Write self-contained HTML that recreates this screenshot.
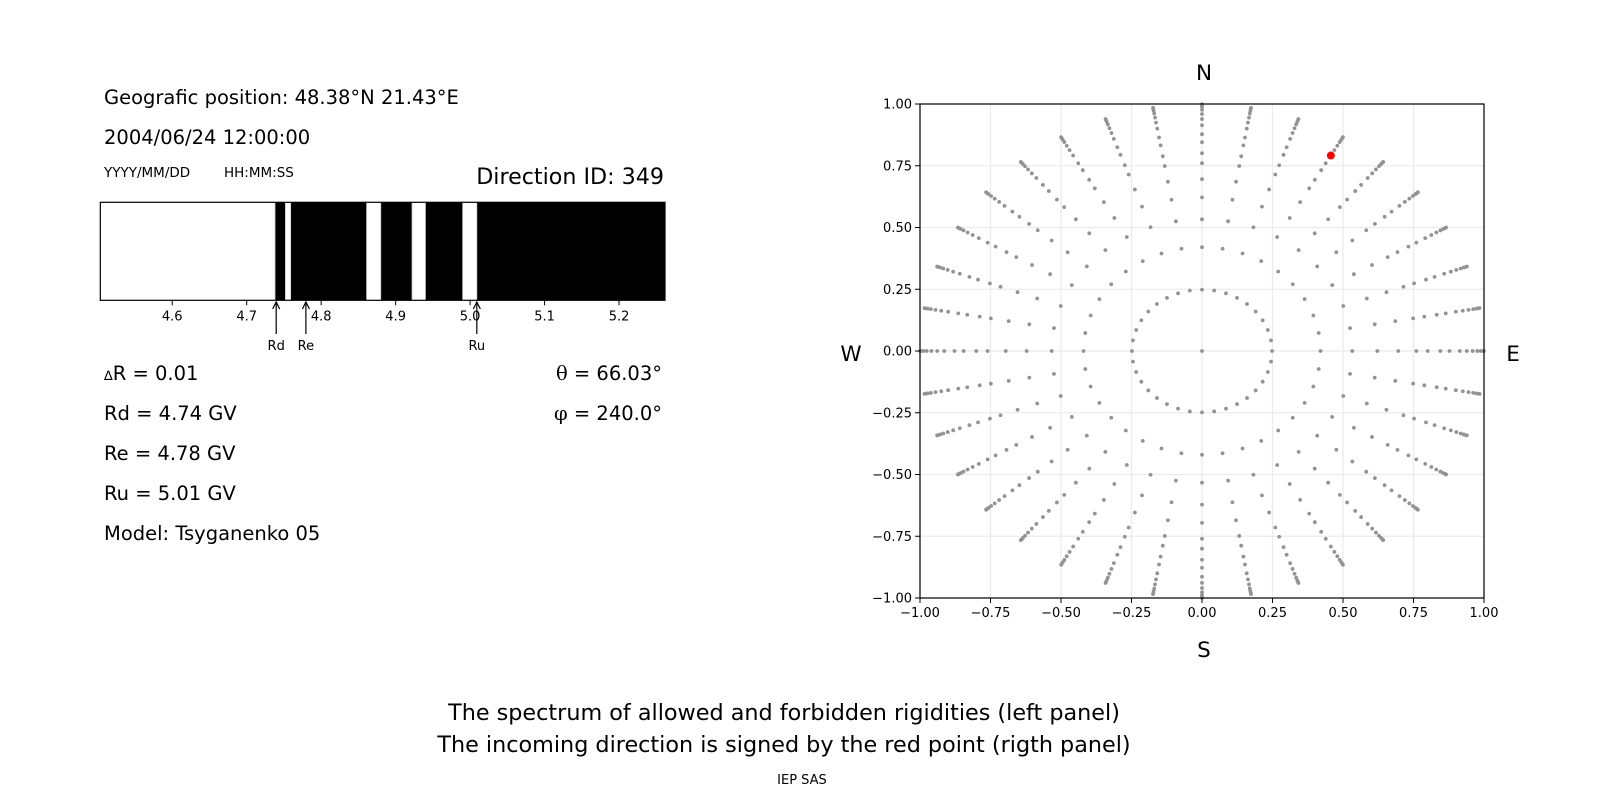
<!DOCTYPE html>
<html><head><meta charset="utf-8"><style>
body{margin:0;background:#fff}
svg{display:block}
text{font-family:"DejaVu Sans","Liberation Sans",sans-serif;fill:#000}
</style></head><body>
<svg id="fig" width="1600" height="800" viewBox="0 0 1600 800" xmlns="http://www.w3.org/2000/svg">
<g>
<text x="104" y="104" font-size="19.5">Geografic position: 48.38°N 21.43°E</text>
<text x="104" y="144" font-size="19.5">2004/06/24 12:00:00</text>
<text x="104" y="177" font-size="13.5">YYYY/MM/DD</text>
<text x="224" y="177" font-size="13.5">HH:MM:SS</text>
<text x="664" y="184" font-size="22.2" text-anchor="end">Direction ID: 349</text>
<text x="104" y="380" font-size="19.5"><tspan font-size="13">∆</tspan>R = 0.01</text>
<text x="104" y="420" font-size="19.5">Rd = 4.74 GV</text>
<text x="104" y="460" font-size="19.5">Re = 4.78 GV</text>
<text x="104" y="500" font-size="19.5">Ru = 5.01 GV</text>
<text x="104" y="540" font-size="19.5">Model: Tsyganenko 05</text>
<text x="662" y="380" font-size="19.5" text-anchor="end"><tspan font-family="DejaVu Serif,serif">θ</tspan> = 66.03°</text>
<text x="662" y="420" font-size="19.5" text-anchor="end"><tspan font-family="DejaVu Serif,serif">φ</tspan> = 240.0°</text>
</g>
<g id="spec"></g>
<g id="sky"></g>
<g>
<text x="784" y="720" font-size="22.3" text-anchor="middle">The spectrum of allowed and forbidden rigidities (left panel)</text>
<text x="784" y="752" font-size="22.3" text-anchor="middle">The incoming direction is signed by the red point (rigth panel)</text>
<text x="802" y="784" font-size="13" text-anchor="middle">IEP SAS</text>
</g>
</svg>
<script>
const NS="http://www.w3.org/2000/svg";
// ---- spectrum data ----
const specDomain=[4.5034,5.2617];
const allowedStart=[4.5034,4.752,4.861,4.922,4.990];
const allowedEnd=[4.738,4.759,4.880,4.940,5.009];
const specTicks=[4.6,4.7,4.8,4.9,5.0,5.1,5.2];
const markerNames=["Rd","Re","Ru"];
const markerValues=[4.7396,4.7795,5.009];
// ---- direction map data ----
const spokeRadii=[0.2485,0.4202,0.5331,0.6219,0.6960,0.7603,0.8004,0.8452,0.8777,0.9140,0.9390,0.9596,0.9763,0.9877,0.9956,0.9995];
const azimuths=[0,10,20,30,40,50,60,70,80,90,100,110,120,130,140,150,160,170,180,190,200,210,220,230,240,250,260,270,280,290,300,310,320,330,340,350];
const redTheta=66.03, redPhi=240.0;
const axisTicks=[-1,-0.75,-0.5,-0.25,0,0.25,0.5,0.75,1];
const axisLabels=["−1.00","−0.75","−0.50","−0.25","0.00","0.25","0.50","0.75","1.00"];

function mk(tag,attrs,parent){const e=document.createElementNS(NS,tag);for(const k in attrs)e.setAttribute(k,attrs[k]);parent.appendChild(e);return e;}

// spectrum
const spec=document.getElementById('spec');
const sx0=100.3,sx1=665,sy0=202.3,sy1=300.3;
const sX=v=>sx0+(v-specDomain[0])/(specDomain[1]-specDomain[0])*(sx1-sx0);
const bg=mk('rect',{x:sx0,y:sy0,width:sx1-sx0,height:sy1-sy0,fill:'#000'},spec);


for(let i=0;i<allowedStart.length;i++){
  const r=mk('rect',{x:sX(allowedStart[i]),y:sy0,width:sX(allowedEnd[i])-sX(allowedStart[i]),height:sy1-sy0,fill:'#fff',stroke:'#ccc','stroke-width':0.8},spec);
  
  
}
const fr=mk('rect',{x:sx0,y:sy0,width:sx1-sx0,height:sy1-sy0,fill:'none',stroke:'#000','stroke-width':1.2},spec);


specTicks.forEach(t=>{
  const x=sX(t);
  mk('line',{x1:x,y1:sy1,x2:x,y2:sy1+5,stroke:'#000','stroke-width':1},spec);
  const tx=mk('text',{x:x,y:sy1+20,'font-size':13,'text-anchor':'middle'},spec);
  tx.textContent=t.toFixed(1);
  
  
});
markerNames.forEach((n,i)=>{
  const x=sX(markerValues[i]);
  const g=mk('g',{},spec);
  
  
  mk('line',{x1:x,y1:334,x2:x,y2:302,stroke:'#000','stroke-width':1.2},g);
  mk('path',{d:`M${x-3.5} ${309} L${x} ${302} L${x+3.5} ${309}`,fill:'none',stroke:'#000','stroke-width':1.2},g);
  const t=mk('text',{x:x,y:350,'font-size':13,'text-anchor':'middle'},g);
  t.textContent=n;
});

// direction map
const sky=document.getElementById('sky');
const ax0=920,ax1=1484,ay0=104,ay1=598;
const X=v=>ax0+(v+1)/2*(ax1-ax0);
const Y=v=>ay1-(v+1)/2*(ay1-ay0);
axisTicks.forEach(t=>{
  mk('line',{x1:X(t),y1:ay0,x2:X(t),y2:ay1,stroke:'#ebebeb','stroke-width':1.3},sky);
  mk('line',{x1:ax0,y1:Y(t),x2:ax1,y2:Y(t),stroke:'#ebebeb','stroke-width':1.3},sky);
});
const dots=mk('g',{fill:'#939393'},sky);


const c0=mk('circle',{cx:X(0),cy:Y(0),r:1.9},dots);


spokeRadii.forEach(r=>{
  azimuths.forEach(a=>{
    const rad=a*Math.PI/180;
    const c=mk('circle',{cx:X(r*Math.sin(rad)),cy:Y(r*Math.cos(rad)),r:1.9},dots);
    
    
  });
});
const rr=Math.sin(redTheta*Math.PI/180), ra=(270-redPhi)*Math.PI/180;
const red=mk('circle',{cx:X(rr*Math.sin(ra)),cy:Y(rr*Math.cos(ra)),r:4,fill:'#ff0000'},sky);


const af=mk('rect',{x:ax0,y:ay0,width:ax1-ax0,height:ay1-ay0,fill:'none',stroke:'#000','stroke-width':1.2},sky);


axisTicks.forEach((t,i)=>{
  mk('line',{x1:X(t),y1:ay1,x2:X(t),y2:ay1+5,stroke:'#000','stroke-width':1},sky);
  mk('line',{x1:ax0-5,y1:Y(t),x2:ax0,y2:Y(t),stroke:'#000','stroke-width':1},sky);
  const tx=mk('text',{x:X(t),y:ay1+19,'font-size':13,'text-anchor':'middle'},sky);
  tx.textContent=axisLabels[i];
  
  
  const ty=mk('text',{x:ax0-8,y:Y(t)+4.5,'font-size':13,'text-anchor':'end'},sky);
  ty.textContent=axisLabels[i];
  
  
});
[["N",1204,80,"north-label"],["S",1204,657,"south-label"],["W",851,361,"west-label"],["E",1513,361,"east-label"]].forEach(d=>{
  const t=mk('text',{x:d[1],y:d[2],'font-size':21.5,'text-anchor':'middle'},sky);
  t.textContent=d[0];
  
  
});
</script>
</body></html>
